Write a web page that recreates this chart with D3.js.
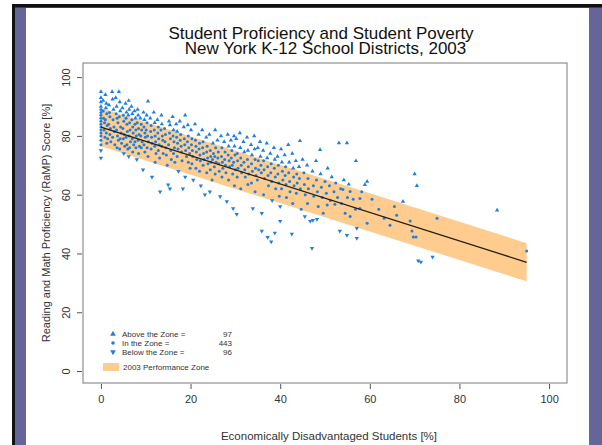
<!DOCTYPE html>
<html>
<head>
<meta charset="utf-8">
<script src="https://cdn.jsdelivr.net/npm/d3@7"></script>
<style>
  body { margin: 0; background: #fff; }
  svg { display: block; font-family: "Liberation Sans", Arial, sans-serif; }
</style>
</head>
<body>
<svg id="chart" width="602" height="445"></svg>
<script>
// district points: [economically disadvantaged %, RaMP score %]
const districts = [
  [0,95],[0,93],[0,91.5],[0,90],[0,89],[0,88],[0,87],[0,86],[0,85],[0,84],[0,83],[0,82],[0,81],[0,80],[0,78.5],[0,77],[0,75],[0,72.5],
  [0.5,92],[0.5,88.5],[0.6,86],[0.8,84.5],[0.7,82],[0.9,79.5],
  [1,94],[1.2,91],[1.1,89.5],[1.3,87.5],[1,85.5],[1.4,83.5],[1.2,81],[1.5,79],[1.3,77.5],
  [1.8,90.5],[1.9,88],[2,86.5],[1.7,84],[2.1,82.5],[2,80.5],[2.2,78],
  [2.5,95],[2.6,92.5],[2.8,89],[2.7,85.5],[2.9,83],[3,81.5],[2.6,79.5],[3.1,77],
  [3.3,93],[3.5,90],[3.4,87.5],[3.6,86],[3.8,84.5],[3.5,82],[3.7,80],[3.9,78.5],[3.6,76],
  [4,95],[4.2,91.5],[4.3,88.5],[4.1,86.5],[4.4,83],[4.5,81],[4.3,79],[4.6,77.5],[4.2,75.5],
  [4.8,89.5],[5,87],[5.1,85],[4.9,82.5],[5.2,80.5],[5,79],[5.3,76.5],[5.1,74],
  [5.5,91],[5.7,88],[5.6,86],[5.8,84],[5.9,81.5],[5.6,79.5],[5.8,77],[6,75.5],
  [6.2,92],[6.3,89],[6.1,87],[6.4,84.5],[6.5,82],[6.3,80],[6.6,78],[6.4,76],[6.2,73],
  [6.8,90],[7,87.5],[6.9,85.5],[7.1,83],[7.2,81],[7,79],[7.3,77],[7.1,74.5],
  [7.5,88.5],[7.7,86],[7.6,84],[7.8,82],[7.9,80],[7.6,78],[7.8,76],[8,72],
  [8.2,89],[8.3,87],[8.1,84.5],[8.4,82.5],[8.5,80.5],[8.3,78.5],[8.6,76.5],[8.4,74],
  [8.8,86],[9,84],[9.1,82],[8.9,80],[9.2,78],[9,76],[9.4,68.5],
  [9.5,88],[9.7,85.5],[9.6,83],[9.8,81],[9.9,79.5],[9.6,77],[9.8,74.5],
  [10.2,87],[10.5,91.8],[10.3,84.5],[10.1,82],[10.4,80],[10.6,78],[10.3,76],[10.5,73],
  [11,86],[11.2,83.5],[11.1,81.5],[11.3,79.5],[11.4,77.5],[11.2,75.5],[11.4,66],
  [11.8,88],[12,84.5],[11.9,82],[12.1,80],[12.2,78],[12,76.5],[12.3,74],[12.1,71],
  [12.6,85.5],[12.8,83],[12.7,81],[12.9,79],[13,77],[12.8,75],[13.2,61],[13.1,72.5],
  [13.5,87],[13.6,84],[13.4,82],[13.7,80],[13.8,78.5],[13.6,76.5],[13.9,74],
  [14.2,82.5],[14.4,80.5],[14.3,78],[14.5,76],[14.6,73.5],[15,63.4],[14.8,70],
  [15.2,85],[15.4,83.7],[15.3,81],[15.5,79],[15.1,77],[15.6,75],[15.4,62],[15.7,72],
  [16,86.5],[16.2,82],[16.1,80],[16.3,78],[16.4,76],[16.2,74],[16.5,71],
  [16.8,84],[17,81.5],[16.9,79.5],[17.1,77.5],[17.2,75.5],[17,73],[17.3,68],
  [17.6,85],[17.8,80.5],[17.7,78.5],[17.9,76.5],[18,74.5],[18.3,62],[18.1,71.5],
  [18.5,83],[18.8,87],[18.6,79],[18.7,77],[18.9,75],[19.1,73],[18.8,66],
  [19.4,83.7],[19.5,80],[19.3,78],[19.6,76],[19.8,74],[19.5,71],[19.9,69],
  [20.1,82],[20.3,79],[20.2,77],[20.4,75],[20.5,73],[20.3,70.5],[20.6,65],
  [21,84],[21.1,78.5],[21.2,76.5],[21.3,74.5],[21.4,72],[21.2,69],
  [21.8,80.5],[22,77.5],[21.9,75.5],[22.1,73.5],[22.2,71.5],[22,68],[22.3,63],
  [22.6,82],[22.8,78],[22.7,76],[22.9,74],[23,72],[22.8,70],[23.2,60],
  [23.5,79.5],[23.7,76.5],[23.6,74.5],[23.8,72.5],[23.9,70.5],[23.6,67.5],
  [24.3,61],[24.2,80.5],[24.4,75],[24.5,73],[24.6,71],[24.4,68.5],[24.8,65],
  [25,77.5],[25.1,74],[24.9,72],
  [25.3,69.5],[25.5,82],[25.6,76],[25.4,73],[25.7,71],[25.5,67],
  [26,78.5],[26.2,74.5],[26.1,72.5],[26.3,70.5],[26.6,59.4],[26.4,68],
  [26.8,80],[27,76],[26.9,73],[27.1,71],[27.2,69],[27,66],
  [27.5,78],[27.7,74.5],[27.6,72],[27.8,70],[28.1,57.7],[27.9,67.5],
  [28.3,80.5],[28.5,76.5],[28.4,73.5],[28.6,71.5],[28.7,69.5],[28.5,65],
  [29,78.5],[29.2,75],[29.1,72.5],[29.3,70],[29.5,55.3],[29.4,67],
  [29.7,80],[29.8,76.5],[29.9,73.5],[29.6,71],[30,68.5],[29.8,63],
  [30.3,53.3],[30.2,79],[30.4,74],[30.5,71.5],[30.6,69],[30.4,66],
  [31,81],[31.1,76],[31.2,72.5],[31.3,70],[31.4,67.5],[31.2,62],
  [31.8,78],[32,74.5],[31.9,71],[32.1,68.5],[32.2,66],
  [32.6,79.5],[32.8,75],[32.7,72],[32.9,69.5],[33,67],[32.8,63.5],
  [33.5,77],[33.7,73.5],[33.6,70.5],[33.9,55.3],[33.8,68],[33.6,64],
  [34.2,80],[34.3,75.5],[34.4,72],[34.5,69],[34.6,66.5],[34.4,61],
  [35,76],[35.1,71.5],[35.2,68.5],[34.9,65],
  [35.5,78],[35.9,53.7],[35.9,47.6],[35.6,73],[35.7,70],[35.8,67.5],
  [36.2,75],[36.3,71.5],[36.4,68.5],[36.5,65.5],[36.3,60],
  [37,77.5],[37.1,72.5],[37.2,69.5],[37.3,66.5],[37.4,63],[37.2,45.5],
  [37.8,74],[38,70.5],[37.9,67.5],[38.1,64.5],[38.2,58],[38,44],
  [38.6,76],[38.8,72],[38.7,69],[38.9,66],[39,62],[38.8,47],
  [39.4,73],[39.6,70],[39.5,67],[39.7,64],[39.8,59.5],
  [40,56],[40,51],[40.2,75.5],
  [40.4,71],[40.5,68],[40.6,65],[40.3,62],
  [41,73.5],[41.2,69.5],[41.1,66.5],[41.3,63.5],[41.4,59],
  [41.8,77],[42,71],[41.9,67.5],[42.1,64.5],[42.2,61],[42.6,46.6],
  [42.7,74],[42.9,69],[43,66],[43.1,63],[42.8,57],
  [43.5,71.5],[43.7,67],[43.8,64],[43.6,60.5],
  [44.4,78.3],[44.2,69.5],[44.3,65.5],[44.5,62],[44.7,55],
  [45,72],
  [45.3,67.5],[45.5,52.6],[45.4,63.5],[45.6,60],
  [46,70],[46.2,65.5],[46.3,62],[46.1,57],[46.7,51],
  [47.1,41.8],[47.2,68],[47.3,51.3],[47.4,63],[47.5,59.5],
  [48,71.5],[48.2,51.6],[48.1,65],[48.3,61],[48.5,56],
  [48.9,75.3],[49,67],[49.2,62.5],[49.6,53.7],[49.4,59],
  [50,64.5],
  [50.3,60.5],[50.6,69],[50.5,56.5],[51,63],[51.2,58],[51.5,66],
  [52,61],[52.2,56.7],[52.4,64],[52.8,59],[53.1,77.6],[53.3,47.6],
  [53.5,62],[53.7,57],[54,61.8],[54.5,53.7],[54.2,65],[54.9,77.6],[54.9,46.2],
  [55,59],[55.3,63.5],[55.6,61.1],[55.6,52.6],
  [56.3,58.4],[56.9,71.5],[57.1,48.6],[57.1,45.2],[57.8,58.7],[57.8,55.3],[58.9,63.4],[59.4,64.5],[59.4,50.3],[60.5,58.4],[58.2,61],[56.8,55],
  [62,55],[63.2,52],[64.5,49.6],[65.5,56],[67.4,57.7],[69,51],[69.4,47.6],[69.7,45.6],[70.3,45.6],[70,67],[70.5,63],[70.8,37.5],[71.4,37.1],[74,38.8],[75,52],[88.4,54.7],[95,40.8],[66,53]
];

// performance zone: fitted line with band, from x=0 to x=95
const zoneX = [0, 95];
const zoneMid = [83, 37];
const zoneLo = [76.5, 30.5];
const zoneHi = [89.5, 43.5];

const xTicks = [0, 20, 40, 60, 80, 100];
const yTicks = [0, 20, 40, 60, 80, 100];

const legendLabels = ['Above the Zone =', 'In the Zone =', 'Below the Zone ='];
const legendCounts = [97, 443, 96];
const zoneLabel = '2003 Performance Zone';

const titleLines = ['Student Proficiency and Student Poverty', 'New York K-12 School Districts, 2003'];
const xTitle = 'Economically Disadvantaged Students [%]';
const yTitle = 'Reading and Math Proficiency (RaMP) Score [%]';

const blue = '#1f7fe0', zoneFill = '#fdcc8e', textCol = '#333';

const svg = d3.select('#chart');

// slide frame
svg.append('rect').attr('x', 12).attr('y', 4).attr('width', 590).attr('height', 441).attr('fill', '#111');
svg.append('rect').attr('x', 15).attr('y', 7.5).attr('width', 587).attr('height', 437.5).attr('fill', '#65659a');
svg.append('rect').attr('x', 26).attr('y', 8).attr('width', 563).attr('height', 437).attr('fill', '#fff');

const box = {left: 83, right: 567, top: 63, bottom: 383};
const x = d3.scaleLinear().domain([-4, 104]).range([box.left, box.right]);
const y = d3.scaleLinear().domain([-4.08, 104.8]).range([box.bottom, box.top]);

// zone band and fit line
const zone = zoneX.map((v, i) => ({x: v, mid: zoneMid[i], lo: zoneLo[i], hi: zoneHi[i]}));
svg.append('path').datum(zone)
  .attr('d', d3.area().x(d => x(d.x)).y0(d => y(d.lo)).y1(d => y(d.hi)))
  .attr('fill', zoneFill);

// points, classified against the zone
const fitAt = v => zoneMid[0] + (zoneMid[1] - zoneMid[0]) * (v - zoneX[0]) / (zoneX[1] - zoneX[0]);
const halfW = (zoneHi[0] - zoneLo[0]) / 2;
const cls = d => d[1] > fitAt(d[0]) + halfW ? 'above' : (d[1] < fitAt(d[0]) - halfW ? 'below' : 'in');
const tri = d3.symbol().type(d3.symbolTriangle).size(8);

const pts = svg.append('g');
districts.forEach(d => {
  const c = cls(d);
  if (c === 'in') {
    pts.append('circle').attr('cx', x(d[0])).attr('cy', y(d[1])).attr('r', 1.5).attr('fill', blue);
  } else {
    pts.append('path').attr('d', tri())
      .attr('transform', `translate(${x(d[0])},${y(d[1])})${c === 'below' ? ' rotate(180)' : ''}`)
      .attr('fill', blue);
  }
});

svg.append('path').datum(zone)
  .attr('d', d3.line().x(d => x(d.x)).y(d => y(d.mid)))
  .attr('stroke', '#2a1c0c').attr('stroke-width', 1.3).attr('fill', 'none');

// plot box
svg.append('rect').attr('x', box.left).attr('y', box.top)
  .attr('width', box.right - box.left).attr('height', box.bottom - box.top)
  .attr('fill', 'none').attr('stroke', '#7a7a7a').attr('stroke-width', 1);

// axes
const xAxis = svg.append('g').attr('transform', `translate(0,${box.bottom + 1})`)
  .call(d3.axisBottom(x).tickValues(xTicks).tickSize(5).tickPadding(6));
const yAxis = svg.append('g').attr('transform', `translate(${box.left - 1},0)`)
  .call(d3.axisLeft(y).tickValues(yTicks).tickSize(5).tickPadding(6));
[xAxis, yAxis].forEach(a => {
  a.select('.domain').remove();
  a.selectAll('line').attr('stroke', '#555');
  a.selectAll('text').attr('fill', textCol).style('font-size', '11px').style('font-family', '"Liberation Sans", Arial, sans-serif');
});
yAxis.selectAll('text')
  .attr('text-anchor', 'middle')
  .attr('transform', 'translate(-12,0) rotate(-90)')
  .attr('x', 0).attr('y', 0).attr('dy', 0);

// titles
svg.append('text').attr('x', 321).attr('y', 39).attr('text-anchor', 'middle')
  .style('font-size', '17px').attr('fill', '#111').text(titleLines[0]);
svg.append('text').attr('x', 325.5).attr('y', 54).attr('text-anchor', 'middle')
  .style('font-size', '17px').attr('fill', '#111').text(titleLines[1]);
svg.append('text').attr('x', 329).attr('y', 440).attr('text-anchor', 'middle')
  .style('font-size', '11.5px').attr('fill', textCol).text(xTitle);
svg.append('text').attr('transform', `translate(50,${(box.top + box.bottom) / 2}) rotate(-90)`)
  .attr('text-anchor', 'middle').style('font-size', '11px').attr('fill', textCol).text(yTitle);

// legend
const lg = svg.append('g');
const rowsY = [334, 343, 352];
legendLabels.forEach((t, i) => {
  if (i === 1) {
    lg.append('circle').attr('cx', 113).attr('cy', rowsY[i]).attr('r', 1.8).attr('fill', blue);
  } else {
    lg.append('path').attr('d', d3.symbol().type(d3.symbolTriangle).size(14)())
      .attr('transform', `translate(113,${rowsY[i]})${i === 2 ? ' rotate(180)' : ''}`).attr('fill', blue);
  }
  lg.append('text').attr('x', 122).attr('y', rowsY[i] + 3).style('font-size', '8px').attr('fill', textCol).text(t);
  lg.append('text').attr('x', 232).attr('y', rowsY[i] + 3).attr('text-anchor', 'end').style('font-size', '8px').attr('fill', textCol).text(legendCounts[i]);
});
lg.append('rect').attr('x', 103).attr('y', 363).attr('width', 16).attr('height', 8).attr('fill', zoneFill);
lg.append('text').attr('x', 123).attr('y', 370).style('font-size', '8px').attr('fill', textCol).text(zoneLabel);
</script>
</body>
</html>
